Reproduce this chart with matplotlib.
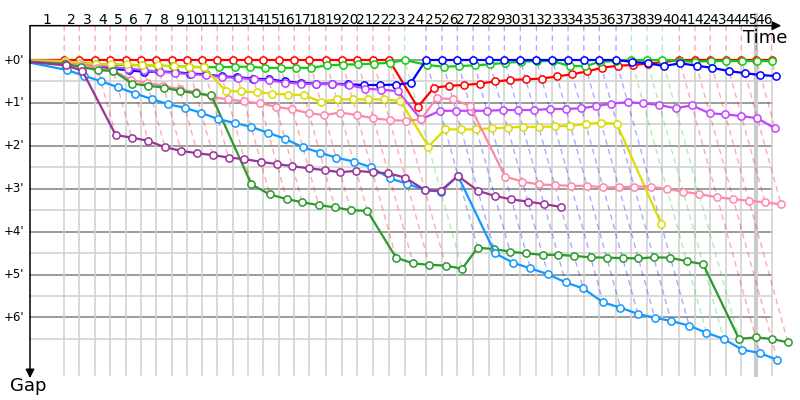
import matplotlib.pyplot as plt

# Leader's elapsed time (s) at the end of laps 1..46
lap_times = [174, 251, 331, 408, 488, 564, 642, 721, 797, 873,
             952, 1031, 1110, 1186, 1265, 1344, 1420, 1504, 1585, 1664,
             1744, 1826, 1905, 2014, 2095, 2173, 2253, 2334, 2412, 2493,
             2575, 2656, 2736, 2816, 2895, 2980, 3058, 3137, 3215, 3302,
             3381, 3459, 3539, 3617, 3693, 3771]

# Gap to the leader (s), from the start (lap 0) to the last lap completed
gap_red = [0] * 23 + [66, 39, 36, 35, 33, 30, 28, 27, 26, 23, 20, 16, 11, 8, 7, 5, 3] + [0] * 7
gap_green = [0.5, 2, 4, 6, 6.5, 7, 7.5, 8, 8.5, 9.5, 10,
             10, 9.5, 9.5, 11, 11, 11, 11, 7.5, 6.5, 6, 5, 4, 0,
             7, 9.5, 8.5, 7.5, 6, 4, 2.5, 1.5, 1.5, 8.5, 8.5, 2.5, 1.5,
             0, 0, 0, 1.5, 2.5, 1.5, 1.5, 1.5, 1.5, 1.5]
gap_blue = [1, 4, 7, 10, 12, 14.5, 16.5, 16, 17, 19, 20,
            23, 24, 26, 27, 30, 32, 33, 33, 34, 35, 35, 34.5, 32,
            0, 0, 0, 0, 0, 0, 0, 0, 0, 0, 0, 0, 0,
            2.5, 4.5, 8.5, 4.5, 8, 11, 15.5, 18.5, 21, 22.5]
gap_violet = [1, 3, 5, 8, 10, 12, 14, 16.5, 18, 20, 21,
              24, 25, 27, 28.5, 31.5, 33, 34, 33.5, 35, 40, 41.5, 43.5, 83,
              71, 71, 71, 71, 70, 70, 70, 68.5, 68.5, 67.5, 64.5, 61, 59,
              60.5, 63, 67.5, 63.5, 74.5, 76, 78.5, 81.5, 95.5]
gap_yellow = [0.5, 1.5, 4, 6, 6, 6, 7.5, 7.5, 9, 10, 10,
              43, 44, 45, 47, 48.5, 49, 58.5, 55, 55, 55, 55, 57.5, 121,
              97, 97, 97, 95.5, 94.5, 93.5, 93.5, 93, 92, 89.5, 87.5, 89.5, 229]
gap_pink = [2, 4, 7, 11, 15, 28, 32, 36, 41, 45, 52,
            55, 58, 60.5, 65.5, 69, 74.5, 77, 73.5, 77, 81.5, 84, 85, 83,
            53.5, 54.5, 64.5, 163, 170, 174, 175, 176, 176, 178, 178, 177, 177,
            180.5, 184, 187.5, 192, 194.5, 197, 199, 202]
gap_darkgreen = [2.5, 5.5, 10, 14, 15.5, 33, 36, 38.5, 43.5, 46.5, 49.5,
                 174, 188, 194.5, 199, 203, 206, 210, 211, 276.5, 284.5, 286.5, 287.5, 292,
                 262.5, 264.5, 268, 270.5, 272.5, 272.5, 274, 276, 276.5, 277, 277.5, 276, 276.5,
                 281.5, 285.5, 390, 388, 390, 395]
gap_lightblue = [4, 14, 22, 29.5, 38, 47, 54.5, 62, 67, 74, 82.5,
                 88, 93.5, 102, 110, 122, 129.5, 136.5, 142, 150, 165.5, 173, 182, 184,
                 162, 270.5, 283.5, 291.5, 299.5, 311, 319.5, 339, 346.5, 355, 360.5, 365, 371.5,
                 381.5, 390, 405, 410, 419.5]
gap_purple = [3, 7.5, 15, 105, 108.5, 113, 122, 127, 130.5, 133, 136.5,
              138.5, 142.5, 145.5, 148.5, 151.5, 154, 157, 155, 157, 158.5, 164.5, 182, 183,
              162, 183, 190, 195, 198, 201.5, 205.5]

drivers = [
    (gap_red, '#ff0000'),
    (gap_green, '#11cc11'),
    (gap_blue, '#0000ff'),
    (gap_violet, '#c044ff'),
    (gap_yellow, '#dddd00'),
    (gap_pink, '#ff88aa'),
    (gap_darkgreen, '#2a9a2a'),
    (gap_lightblue, '#1199ff'),
    (gap_purple, '#993399'),
]

plt.rcParams['font.family'] = ['DejaVu Sans']

# pixel scale of the original chart
sx = 11.8 / 60   # px per second along time
sy = 42.9 / 60   # px per second of gap
g_top = -48      # top axis line
g_bottom = 441   # bottom of the grid

fig = plt.figure(figsize=(8, 4), dpi=100)
ax = fig.add_axes([0, 0, 1, 1])
ax.set_xlim(-30 / sx, 770 / sx)
ax.set_ylim(340 / sy, -60 / sy)
ax.axis('off')

starts = [0] + lap_times
t_end = lap_times[-1]

# horizontal grid, every 30 s
for g in range(0, 391, 30):
    major = g % 60 == 0
    ax.plot([0, t_end], [g, g], color='#808080' if major else '#d0d0d0',
            lw=1.1, zorder=1)
    if major:
        ax.text(-30, g, "+%d'" % (g // 60), ha='right', va='center', fontsize=8.5)

# vertical grid at each leader lap
for t in lap_times:
    ax.plot([t, t], [0, g_bottom], color='#d0d0d0', lw=1.1, zorder=1)
ax.plot([lap_times[44]] * 2, [-63, g_bottom], color='#cccccc', lw=3, zorder=1)

# dashed "same lap" lines, coloured by the lap leader
for k, t in enumerate(lap_times, start=1):
    running = [(gaps[k], c) for gaps, c in drivers if len(gaps) > k]
    lead_c = min(running, key=lambda d: d[0])[1]
    gmax = max(d[0] for d in running)
    ax.plot([t, t, t + gmax], [g_top, 0, gmax], color=lead_c, alpha=0.33,
            lw=1.0, ls=(0, (4, 3)), zorder=2)

# lap numbers
for k in range(1, len(lap_times) + 1):
    ax.text((starts[k - 1] + starts[k]) / 2, -50, str(k), ha='center',
            va='baseline', fontsize=10)

# drivers
for z, (gaps, c) in enumerate(drivers):
    xs = [starts[k] + g for k, g in enumerate(gaps)]
    ax.plot(xs, gaps, color=c, lw=1.6, marker='o', ms=5.2, mfc='white',
            mec=c, mew=1.1, markevery=list(range(1, len(gaps))), zorder=3 + z)

# axes with arrows
ax.annotate('', xy=(3820, g_top), xytext=(0, g_top),
            arrowprops=dict(arrowstyle='-|>', color='black', lw=1.1,
                            mutation_scale=13, shrinkA=0, shrinkB=0), zorder=20)
ax.annotate('', xy=(0, 445), xytext=(0, g_top),
            arrowprops=dict(arrowstyle='-|>', color='black', lw=1.1,
                            mutation_scale=13, shrinkA=0, shrinkB=0), zorder=20)
ax.text(3737, -31, 'Time', ha='center', va='center', fontsize=13)
ax.text(-10, 456, 'Gap', ha='center', va='center', fontsize=13)

fig.savefig('out.png', dpi=100)
